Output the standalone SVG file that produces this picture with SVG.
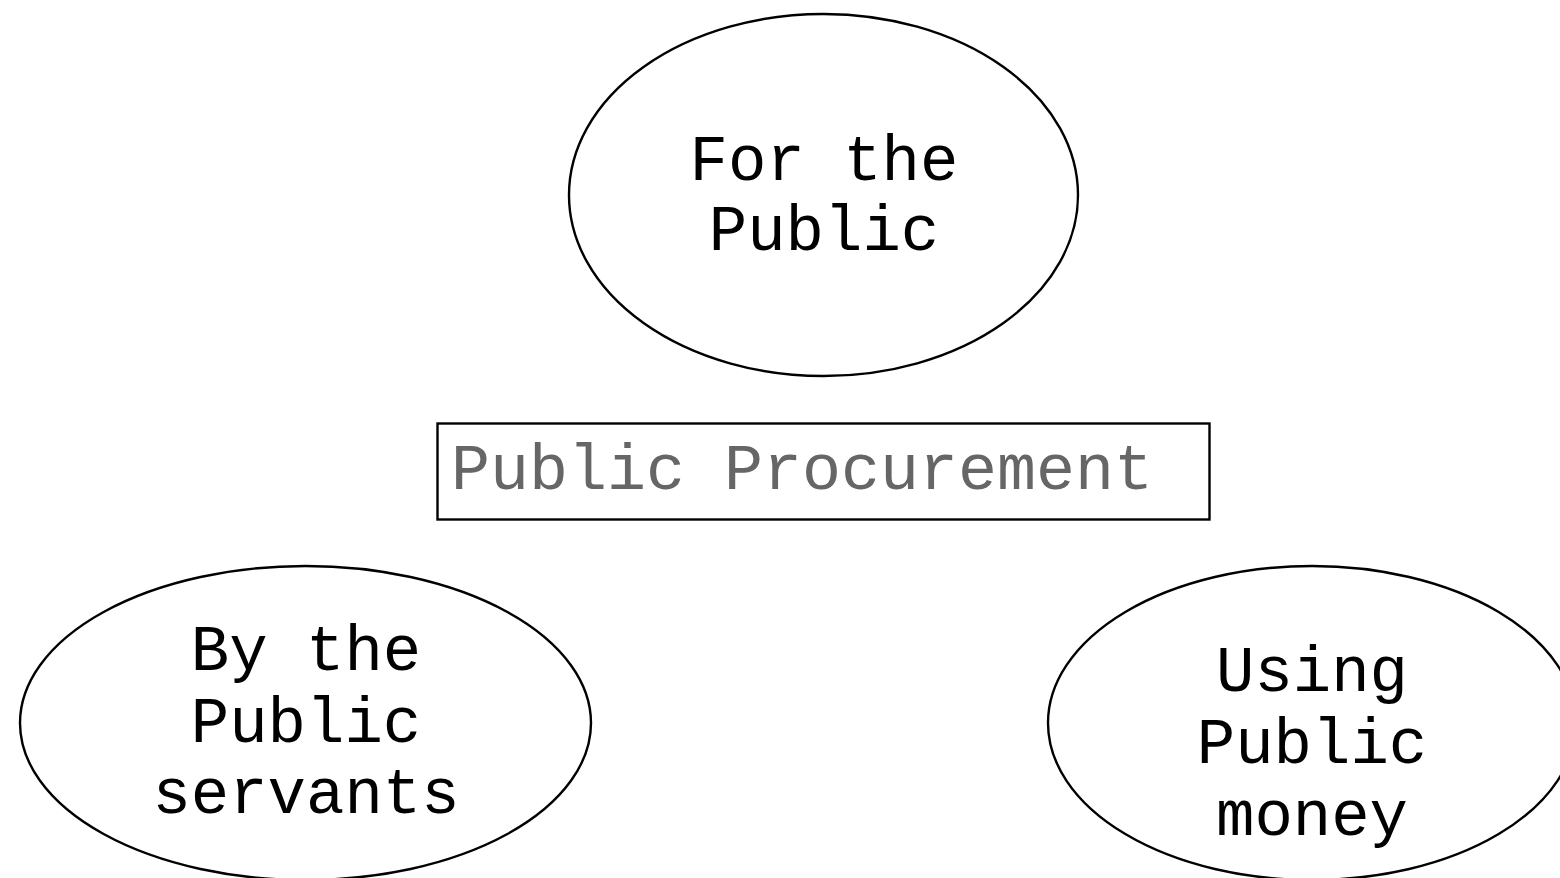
<svg xmlns="http://www.w3.org/2000/svg" width="1560" height="878" viewBox="0 0 1560 878">
<style>
.shape{fill:#fff;stroke:#000;stroke-width:2.4}
.t{font-family:"Liberation Mono","Courier New",monospace;font-size:64px;fill:#000;text-anchor:middle}
.g{font-family:"Liberation Mono","Courier New",monospace;font-size:65px;fill:#666}
</style>
<rect width="1560" height="878" fill="#fff"/>
<g id="connectors"></g>
<g id="node-public">
<ellipse class="shape" cx="823.5" cy="195" rx="254.5" ry="181"/>
<text class="t" x="824" y="180">For the</text>
<text class="t" x="824" y="250">Public</text>
</g>
<g id="node-procurement">
<rect class="shape" x="437.5" y="423.5" width="772" height="96" stroke-width="2.5"/>
<text class="g" x="451" y="489">Public Procurement</text>
</g>
<g id="node-servants">
<ellipse class="shape" cx="305.5" cy="723" rx="285.5" ry="157"/>
<text class="t" x="306" y="670">By the</text>
<text class="t" x="306" y="742">Public</text>
<text class="t" x="306" y="813">servants</text>
</g>
<g id="node-money">
<ellipse class="shape" cx="1312" cy="723" rx="264" ry="157"/>
<text class="t" x="1312" y="691">Using</text>
<text class="t" x="1312" y="763">Public</text>
<text class="t" x="1312" y="835">money</text>
</g>
</svg>
